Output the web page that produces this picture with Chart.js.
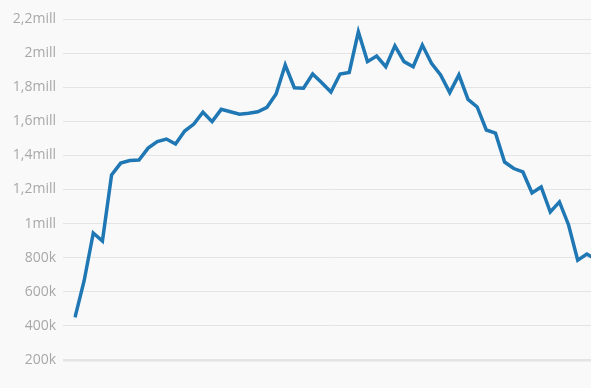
<!DOCTYPE html>
<html>
<head>
<meta charset="utf-8">
<script src="https://cdn.jsdelivr.net/npm/chart.js@4/dist/chart.umd.min.js"></script>
<style>
    html, body { margin: 0; padding: 0; background: #f9f9f9; overflow: hidden; }
    #wrap { width: 600px; height: 388px; }
</style>
</head>
<body>
<div id="wrap"><canvas id="chart"></canvas></div>
<script>
// Periods along the x axis (no labels shown in the original)
const periods = [
    1, 2, 3, 4, 5, 6, 7, 8, 9, 10, 11, 12, 13, 14, 15, 16, 17, 18, 19, 20,
    21, 22, 23, 24, 25, 26, 27, 28, 29, 30, 31, 32, 33, 34, 35, 36, 37, 38, 39, 40,
    41, 42, 43, 44, 45, 46, 47, 48, 49, 50, 51, 52, 53, 54, 55, 56, 57, 58
];

// Values
const values = [
    450000, 665000, 945000, 898000, 1285000, 1355000, 1370000, 1373000, 1443000, 1481000,
    1496000, 1467000, 1543000, 1584000, 1653000, 1598000, 1670000, 1656000, 1641000, 1647000,
    1656000, 1682000, 1760000, 1930000, 1797000, 1794000, 1877000, 1826000, 1772000, 1877000,
    1887000, 2125000, 1950000, 1983000, 1920000, 2043000, 1950000, 1920000, 2047000, 1940000,
    1872000, 1768000, 1872000, 1728000, 1684000, 1549000, 1531000, 1361000, 1323000, 1303000,
    1180000, 1215000, 1068000, 1127000, 992000, 786000, 822000, 790000
];

const yMin = 200000;
const yMax = 2200000;
const yStep = 200000;

function formatTick(v) {
    if (v >= 1000000) {
        return String(v / 1000000).replace('.', ',') + 'mill';
    }
    return (v / 1000) + 'k';
}

const ctx = document.getElementById('chart').getContext('2d');
new Chart(ctx, {
    type: 'line',
    data: {
        labels: periods,
        datasets: [{
            data: values,
            borderColor: '#1f77b4',
            borderWidth: 3.5,
            pointRadius: 0,
            tension: 0,
            fill: false
        }]
    },
    options: {
        responsive: true,
        maintainAspectRatio: false,
        animation: false,
        layout: { padding: { top: 19, bottom: 28, left: 0, right: 4 } },
        plugins: { legend: { display: false }, tooltip: { enabled: false } },
        scales: {
            x: { display: false, offset: false },
            y: {
                min: yMin,
                max: yMax,
                border: { display: false },
                afterFit: scale => { scale.width = 75; },
                grid: {
                    color: '#e4e4e4',
                    tickLength: 12,
                    lineWidth: c => (c.tick && c.tick.value === yMin ? 2.5 : 1)
                },
                ticks: {
                    stepSize: yStep,
                    padding: 7,
                    color: '#a8a8a8',
                    font: { family: 'Open Sans', size: 14 },
                    callback: v => formatTick(v)
                }
            }
        }
    }
});
</script>
</body>
</html>
